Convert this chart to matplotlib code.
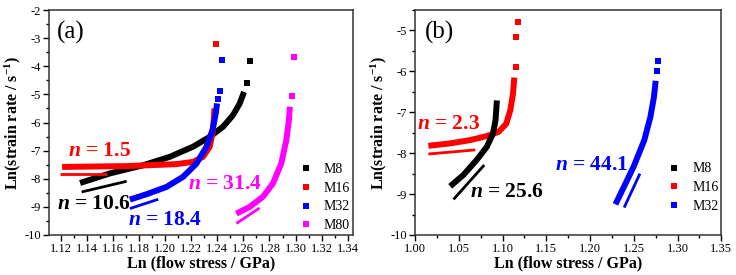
import matplotlib
matplotlib.use('Agg')
import matplotlib.pyplot as plt
from matplotlib.lines import Line2D
from matplotlib.ticker import MultipleLocator

plt.rcParams['font.family'] = ['Liberation Serif', 'DejaVu Serif']
plt.rcParams['mathtext.fontset'] = 'custom'
plt.rcParams['mathtext.rm'] = 'Liberation Serif:bold'
plt.rcParams['mathtext.it'] = 'Liberation Serif:italic:bold'
plt.rcParams['mathtext.bf'] = 'Liberation Serif:bold'
plt.rcParams['axes.unicode_minus'] = False

# ---- panel (a) data: ln(flow stress) vs ln(strain rate) ----
a_m8_x = [1.1348, 1.1577, 1.1832, 1.2036, 1.2214, 1.2342, 1.2444, 1.2520, 1.2572, 1.2605]
a_m8_y = [-8.15, -7.81, -7.52, -7.22, -6.86, -6.51, -6.15, -5.74, -5.32, -4.91]
a_m8_tx = [1.2628, 1.2648]
a_m8_ty = [-4.59, -3.80]

a_m16_x = [1.1210, 1.1705, 1.2087, 1.2214, 1.2291, 1.2342, 1.2363, 1.2373, 1.2378]
a_m16_y = [-7.58, -7.55, -7.48, -7.40, -7.22, -6.86, -6.39, -5.91, -5.50]
a_m16_tx = [1.2393]
a_m16_ty = [-3.21]

a_m32_x = [1.1730, 1.1858, 1.2011, 1.2138, 1.2240, 1.2317, 1.2363, 1.2388, 1.2398]
a_m32_y = [-8.74, -8.55, -8.29, -7.93, -7.46, -6.86, -6.27, -5.68, -5.32]
a_m32_tx = [1.2406, 1.2419, 1.2436]
a_m32_ty = [-5.18, -4.87, -3.78]

a_m80_x = [1.2546, 1.2648, 1.2750, 1.2826, 1.2890, 1.2929, 1.2949, 1.2956]
a_m80_y = [-9.24, -9.00, -8.64, -8.17, -7.46, -6.63, -5.91, -5.44]
a_m80_tx = [1.2972, 1.2987]
a_m80_ty = [-5.06, -3.66]

# fitted slopes (a)
a_fit = {
    'M8': ([1.1360, 1.1705], [-8.47, -8.09]),
    'M16': ([1.1195, 1.1552], [-7.84, -7.84]),
    'M32': ([1.1730, 1.1947], [-9.06, -8.73]),
    'M80': ([1.2546, 1.2724], [-9.59, -9.04]),
}
a_labels = {'M16': (1.1258, -7.02, '1.5'), 'M8': (1.1170, -8.90, '10.6'),
            'M32': (1.1717, -9.47, '18.4'), 'M80': (1.2176, -8.20, '31.4')}

# ---- panel (b) data ----
b_m8_x = [1.0401, 1.0553, 1.0706, 1.0821, 1.0890, 1.0919, 1.0935]
b_m8_y = [-8.81, -8.53, -8.16, -7.84, -7.52, -7.20, -6.71]

b_m16_x = [1.0152, 1.0401, 1.0630, 1.0821, 1.0954, 1.1042, 1.1088, 1.1119, 1.1134]
b_m16_y = [-7.82, -7.76, -7.68, -7.58, -7.48, -7.28, -6.95, -6.55, -6.15]
b_m16_tx = [1.1148, 1.1156, 1.1171]
b_m16_ty = [-5.89, -5.16, -4.79]

b_m32_x = [1.229, 1.239, 1.250, 1.262, 1.269, 1.273, 1.275]
b_m32_y = [-9.25, -8.81, -8.32, -7.68, -7.11, -6.63, -6.23]
b_m32_tx = [1.277, 1.278]
b_m32_ty = [-5.98, -5.74]

b_fit = {
    'M8': ([1.0439, 1.0790], [-9.13, -8.29]),
    'M16': ([1.0152, 1.0687], [-8.02, -7.92]),
    'M32': ([1.239, 1.257], [-9.33, -8.50]),
}
b_labels = {'M16': (1.002, -7.29, '2.3'), 'M8': (1.063, -8.96, '25.6'),
            'M32': (1.160, -8.29, '44.1')}

colors = {'M8': 'black', 'M16': '#ff0000', 'M32': '#0000ff', 'M80': '#ff00ff'}


def draw_series(ax, name, x, y, tx=None, ty=None):
    ax.plot(x, y, color=colors[name], lw=4.3, solid_capstyle='butt',
            solid_joinstyle='round')
    if tx:
        ax.plot(tx, ty, 's', color=colors[name], ms=4, mew=0)


def style_axes(ax, xlim, ylim, xmaj, xmin, ymaj, ymin):
    ax.set_xlim(*xlim)
    ax.set_ylim(*ylim)
    ax.xaxis.set_major_locator(MultipleLocator(xmaj))
    ax.xaxis.set_minor_locator(MultipleLocator(xmin))
    ax.yaxis.set_major_locator(MultipleLocator(ymaj))
    ax.yaxis.set_minor_locator(MultipleLocator(ymin))
    ax.tick_params(which='both', direction='out', labelsize=9, width=1,
                   top=False, right=False, pad=2)
    ax.tick_params(which='major', length=4)
    ax.tick_params(which='minor', length=2.5)
    for s in ax.spines.values():
        s.set_linewidth(1.1)
        s.set_color('#333333')
    ax.set_xlabel('Ln (flow stress / GPa)', fontsize=11.5, fontweight='bold',
                  labelpad=0)
    ax.set_ylabel(r'Ln(strain rate / s$^{-1}$)', fontsize=11.5,
                  fontweight='bold', labelpad=1)


def add_legend(ax, names, anchor):
    handles = [Line2D([], [], ls='none', marker='s', ms=4.5, mew=0,
                      color=colors[n], label=n) for n in names]
    ax.legend(handles=handles, loc='lower right', bbox_to_anchor=anchor,
              frameon=False, fontsize=10, handlelength=1.0, handletextpad=0.8,
              labelspacing=0.42, borderaxespad=0.0, borderpad=0.2)


fig = plt.figure(figsize=(7.36, 2.75), dpi=100)
ax1 = fig.add_axes([0.0666, 0.1455, 0.413, 0.818])
ax2 = fig.add_axes([0.564, 0.1455, 0.416, 0.818])

# panel (a)
draw_series(ax1, 'M8', a_m8_x, a_m8_y, a_m8_tx, a_m8_ty)
draw_series(ax1, 'M16', a_m16_x, a_m16_y, a_m16_tx, a_m16_ty)
draw_series(ax1, 'M32', a_m32_x, a_m32_y, a_m32_tx, a_m32_ty)
draw_series(ax1, 'M80', a_m80_x, a_m80_y, a_m80_tx, a_m80_ty)
for name, (fx, fy) in a_fit.items():
    ax1.plot(fx, fy, color=colors[name], lw=2.0, solid_capstyle='butt')
for name, (lx, ly, val) in a_labels.items():
    ax1.text(lx, ly, r'$n$ = ' + val, color=colors[name], fontsize=15.5,
             fontweight='bold', ha='left', va='center')
style_axes(ax1, (1.111, 1.344), (-10, -2), 0.02, 0.01, 1, 0.5)
ax1.text(0.026, 0.90, '(a)', transform=ax1.transAxes, fontsize=18,
         ha='left', va='center')
add_legend(ax1, ['M8', 'M16', 'M32', 'M80'], (1.0, 0.0))

# panel (b)
draw_series(ax2, 'M16', b_m16_x, b_m16_y, b_m16_tx, b_m16_ty)
draw_series(ax2, 'M8', b_m8_x, b_m8_y)
draw_series(ax2, 'M32', b_m32_x, b_m32_y, b_m32_tx, b_m32_ty)
for name, (fx, fy) in b_fit.items():
    ax2.plot(fx, fy, color=colors[name], lw=2.0, solid_capstyle='butt')
for name, (lx, ly, val) in b_labels.items():
    ax2.text(lx, ly, r'$n$ = ' + val, color=colors[name], fontsize=15.5,
             fontweight='bold', ha='left', va='center')
style_axes(ax2, (1.00, 1.35), (-10, -4.5), 0.05, 0.025, 1, 0.5)
ax2.text(0.033, 0.90, '(b)', transform=ax2.transAxes, fontsize=18,
         ha='left', va='center')
add_legend(ax2, ['M8', 'M16', 'M32'], (1.0, 0.085))

fig.savefig('out.png', dpi=100)
